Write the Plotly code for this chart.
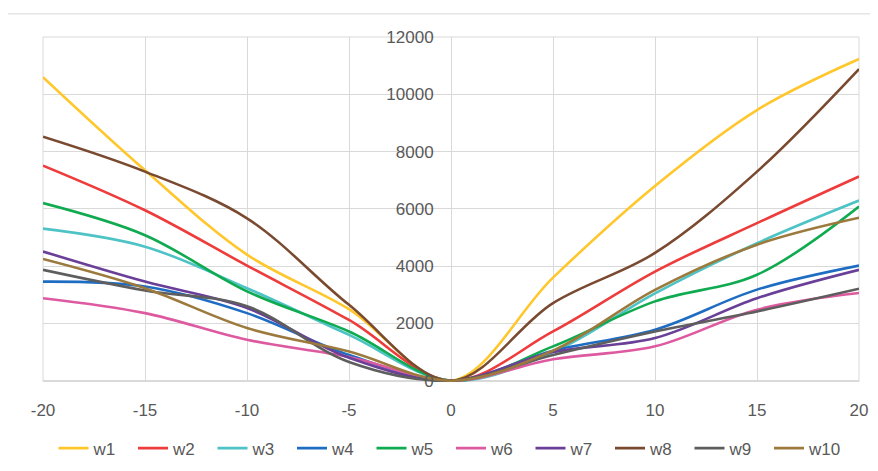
import plotly.graph_objects as go

x_vals = [-20, -15, -10, -5, 0, 5, 10, 15, 20]

w1 = [10600, 7350, 4400, 2500, 0, 3600, 6800, 9450, 11230]
w2 = [7510, 5950, 4020, 2120, 0, 1720, 3810, 5500, 7130]
w3 = [5310, 4680, 3230, 1600, 0, 1000, 3050, 4800, 6290]
w4 = [3460, 3290, 2360, 900, 0, 1050, 1780, 3180, 4020]
w5 = [6200, 5080, 3120, 1720, 0, 1200, 2770, 3700, 6080]
w6 = [2880, 2360, 1430, 830, 0, 750, 1200, 2480, 3060]
w7 = [4510, 3460, 2540, 800, 0, 1000, 1490, 2880, 3870]
w8 = [8520, 7300, 5670, 2650, 0, 2710, 4460, 7300, 10880]
w9 = [3870, 3150, 2600, 650, 0, 900, 1720, 2420, 3210]
w10 = [4250, 3230, 1840, 1020, 0, 1050, 3170, 4750, 5690]

series_names = ["w1", "w2", "w3", "w4", "w5", "w6", "w7", "w8", "w9", "w10"]
series_values = [w1, w2, w3, w4, w5, w6, w7, w8, w9, w10]
series_colors = ["#FFC72C", "#EE3B3B", "#4DC3C6", "#1F6DC2", "#10AA50",
                 "#DE5AA0", "#6A3F98", "#7A4A30", "#5E5E5E", "#9C7A3E"]

x_ticks = [-20, -15, -10, -5, 0, 5, 10, 15, 20]
y_ticks = [0, 2000, 4000, 6000, 8000, 10000, 12000]

FONT = "Liberation Sans Narrow, Liberation Sans, Arial, sans-serif"
GRID = "#D9D9D9"
TXT = "#595959"

fig = go.Figure()
for name, vals, col in zip(series_names, series_values, series_colors):
    fig.add_trace(go.Scatter(
        x=x_vals, y=vals, name=name, mode="lines",
        line=dict(color=col, width=2.6, shape="spline", smoothing=1.0),
    ))

fig.update_layout(
    width=870, height=463,
    margin=dict(l=35, r=19, t=29, b=89, autoexpand=False),
    paper_bgcolor="white", plot_bgcolor="white",
    font=dict(family=FONT, size=16, color=TXT),
    showlegend=True,
    legend=dict(
        orientation="h", x=0.5, xanchor="center", y=-0.193, yanchor="middle",
        font=dict(family=FONT, size=17, color=TXT),
        entrywidth=34.5, entrywidthmode="pixels",
        itemwidth=30, bgcolor="rgba(0,0,0,0)",
    ),
    xaxis=dict(
        range=[-20, 20], tickvals=x_ticks, ticktext=[str(v) for v in x_ticks],
        showgrid=True, gridcolor=GRID, gridwidth=1, automargin=False,
        zeroline=True, zerolinecolor=GRID, zerolinewidth=1,
        showline=False, ticks="outside", ticklen=13, tickcolor="rgba(0,0,0,0)",
        tickfont=dict(family=FONT, size=17, color=TXT),
    ),
    yaxis=dict(
        range=[-45, 12000], tickvals=y_ticks, ticktext=[str(v) for v in y_ticks],
        anchor="free", position=0.5, side="left", automargin=False,
        showgrid=True, gridcolor=GRID, gridwidth=1,
        zeroline=True, zerolinecolor=GRID, zerolinewidth=1,
        showline=False, ticks="outside", ticklen=14, tickcolor="rgba(0,0,0,0)",
        tickfont=dict(family=FONT, size=17, color=TXT),
    ),
    shapes=[
        dict(type="rect", xref="paper", yref="paper", x0=0, x1=1, y0=0.0013, y1=1,
             line=dict(color=GRID, width=1), layer="below"),
        dict(type="rect", xref="paper", yref="paper", x0=-0.0441, x1=1.1, y0=-0.5, y1=1.067,
             line=dict(color="#D9D9D9", width=1), layer="below"),
    ],
)

fig.write_html("out.html")
